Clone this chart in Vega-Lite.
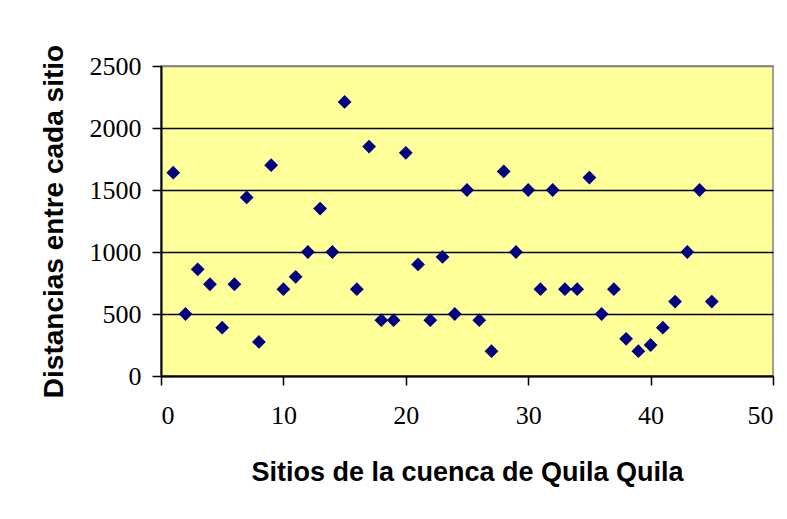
{
  "$schema": "https://vega.github.io/schema/vega-lite/v6.json",
  "width": 612,
  "height": 310,
  "autosize": {"type": "none"},
  "padding": {"left": 161, "top": 66, "right": 14, "bottom": 143},
  "background": "white",
  "config": {
    "view": {"fill": "#FFFF99", "stroke": "#808080", "strokeWidth": 1.5},
    "axis": {
      "labelFont": "Liberation Serif",
      "labelFontSize": 26,
      "labelColor": "black",
      "titleFont": "Liberation Sans",
      "titleFontSize": 26,
      "titleFontWeight": "bold",
      "titleColor": "black",
      "domainColor": "black",
      "domainWidth": 2,
      "tickColor": "black",
      "tickWidth": 1.5,
      "tickSize": 9
    }
  },
  "data": {
    "values": [
      {"sitio": 1, "distancia": 1640},
      {"sitio": 2, "distancia": 500},
      {"sitio": 3, "distancia": 860},
      {"sitio": 4, "distancia": 740},
      {"sitio": 5, "distancia": 390},
      {"sitio": 6, "distancia": 740},
      {"sitio": 7, "distancia": 1440},
      {"sitio": 8, "distancia": 275},
      {"sitio": 9, "distancia": 1700},
      {"sitio": 10, "distancia": 700},
      {"sitio": 11, "distancia": 800},
      {"sitio": 12, "distancia": 1000},
      {"sitio": 13, "distancia": 1350},
      {"sitio": 14, "distancia": 1000},
      {"sitio": 15, "distancia": 2210},
      {"sitio": 16, "distancia": 700},
      {"sitio": 17, "distancia": 1850},
      {"sitio": 18, "distancia": 450},
      {"sitio": 19, "distancia": 450},
      {"sitio": 20, "distancia": 1800},
      {"sitio": 21, "distancia": 900},
      {"sitio": 22, "distancia": 450},
      {"sitio": 23, "distancia": 960},
      {"sitio": 24, "distancia": 500},
      {"sitio": 25, "distancia": 1500},
      {"sitio": 26, "distancia": 450},
      {"sitio": 27, "distancia": 200},
      {"sitio": 28, "distancia": 1650},
      {"sitio": 29, "distancia": 1000},
      {"sitio": 30, "distancia": 1500},
      {"sitio": 31, "distancia": 700},
      {"sitio": 32, "distancia": 1500},
      {"sitio": 33, "distancia": 700},
      {"sitio": 34, "distancia": 700},
      {"sitio": 35, "distancia": 1600},
      {"sitio": 36, "distancia": 500},
      {"sitio": 37, "distancia": 700},
      {"sitio": 38, "distancia": 300},
      {"sitio": 39, "distancia": 200},
      {"sitio": 40, "distancia": 250},
      {"sitio": 41, "distancia": 390},
      {"sitio": 42, "distancia": 600},
      {"sitio": 43, "distancia": 1000},
      {"sitio": 44, "distancia": 1500},
      {"sitio": 45, "distancia": 600}
    ]
  },
  "mark": {"type": "point", "shape": "diamond", "filled": true, "color": "#000080", "size": 190, "opacity": 1, "strokeWidth": 0},
  "encoding": {
    "x": {
      "field": "sitio",
      "type": "quantitative",
      "scale": {"domain": [0, 50], "nice": false, "zero": true},
      "axis": {
        "title": "Sitios de la cuenca de Quila Quila",
        "values": [0, 10, 20, 30, 40, 50],
        "format": "d",
        "grid": false,
        "labelPadding": 17,
        "titleFontSize": 27,
        "titlePadding": 31
      }
    },
    "y": {
      "field": "distancia",
      "type": "quantitative",
      "scale": {"domain": [0, 2500], "nice": false},
      "axis": {
        "title": "Distancias entre cada sitio",
        "values": [0, 500, 1000, 1500, 2000, 2500],
        "format": "d",
        "grid": true,
        "gridColor": {"condition": {"test": "datum.value === 2500", "value": "#808080"}, "value": "black"},
        "gridWidth": 1.3,
        "gridOpacity": 1,
        "labelPadding": 11,
        "titleFontSize": 28,
        "titlePadding": 21
      }
    }
  }
}
